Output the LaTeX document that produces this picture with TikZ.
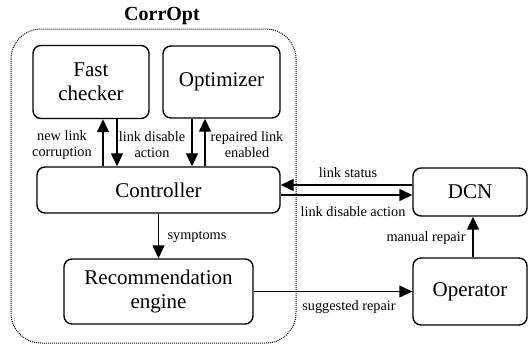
\documentclass[tikz,border=0pt]{standalone}
\usepackage{fontspec}
\setmainfont{Liberation Serif}
\usetikzlibrary{arrows.meta}

\begin{document}
\begin{tikzpicture}[x=1pt,y=-1pt]
      \tikzstyle{box}=[draw, line width=1.4pt, rounded corners=8pt, align=center, inner sep=0pt, font=\fontsize{21}{24}\selectfont]
      \tikzstyle{lbl}=[align=center, inner sep=0pt, font=\fontsize{14.3}{16}\selectfont]
      \tikzstyle{arr}=[line width=1.4pt, -{Triangle[width=12pt,length=13pt]}]
      \useasboundingbox (0,0) rectangle (529,346);
      % CorrOpt frame
      \draw[densely dotted, line width=1pt, rounded corners=30pt] (11,29) rectangle (296,343);
      \node[font=\bfseries\fontsize{20}{24}\selectfont] (title) at (162,16) {CorrOpt};
      \node[box, minimum width=116pt, minimum height=73pt] (fast) at (91,82) {Fast\\checker};
      \node[box, minimum width=117pt, minimum height=72pt] (opt) at (221.5,82) {Optimizer};
      \node[box, minimum width=243pt, minimum height=46pt] (ctrl) at (158.5,190) {Controller};
      \node[box, minimum width=189pt, minimum height=65pt] (rec) at (158.5,291.5) {Recommendation\\engine};
      \node[box, minimum width=114pt, minimum height=48pt] (dcn) at (470,192) {DCN};
      \node[box, minimum width=114pt, minimum height=67pt] (op) at (470,291.5) {Operator};
      % arrows
      \draw[arr] ([xshift=12pt]fast.south |- ctrl.north) -- ([xshift=12pt]fast.south);
      \draw[arr] ([xshift=26pt]fast.south) -- ([xshift=26pt]fast.south |- ctrl.north);
      \draw[arr] ([xshift=-29.5pt]opt.south) -- ([xshift=-29.5pt]opt.south |- ctrl.north);
      \draw[arr] ([xshift=-16.5pt]opt.south |- ctrl.north) -- ([xshift=-16.5pt]opt.south);
      \draw[arr] (ctrl.south) -- (rec.north);
      \draw[arr] ([yshift=7pt]dcn.west) -- ([yshift=7pt]dcn.west -| ctrl.east);
      \draw[arr] ([yshift=-3pt]dcn.west -| ctrl.east) -- ([yshift=-3pt]dcn.west);
      \draw[arr] (rec.east) -- (op.west);
      \draw[arr] ([xshift=3pt]op.north) -- ([xshift=3pt]dcn.south);
      % labels
      \node[lbl] (l1) at (62,145) {new link\\corruption};
      \node[lbl] (l2) at (152,145) {link disable\\action};
      \node[lbl] (l3) at (247,145) {repaired link\\enabled};
      \node[lbl] (l4) at (197,237) {symptoms};
      \node[lbl] (l5) at (348,173) {link status};
      \node[lbl] (l6) at (353,212) {link disable action};
      \node[lbl] (l7) at (426,238) {manual repair};
      \node[lbl] (l8) at (349,307) {suggested repair};
\end{tikzpicture}
\end{document}
